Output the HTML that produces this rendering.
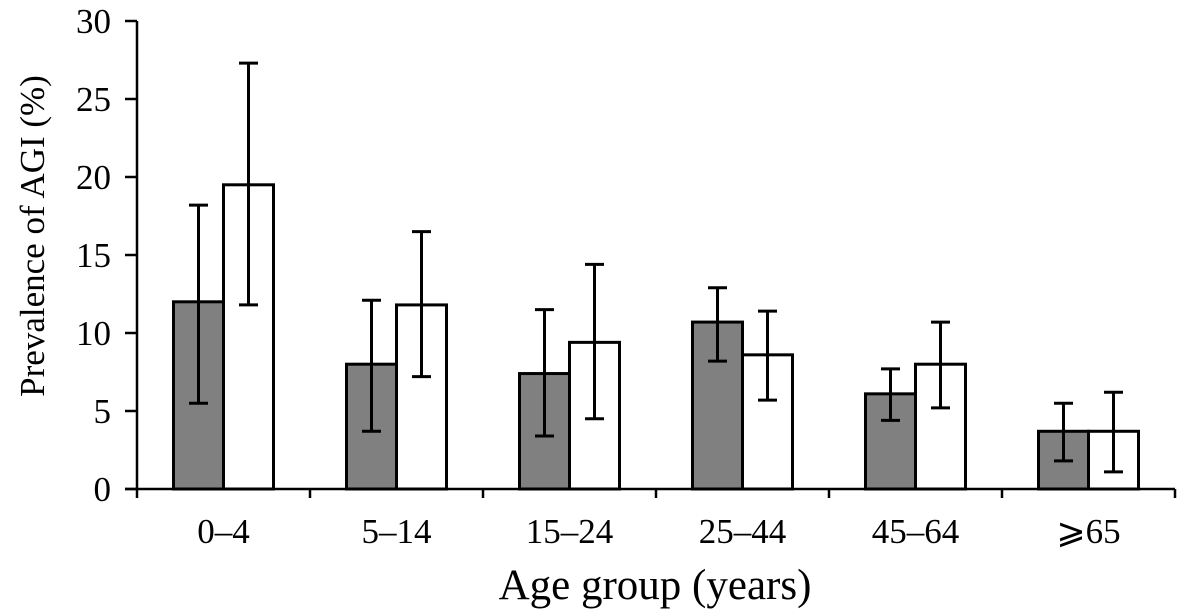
<!DOCTYPE html>
<html><head><meta charset="utf-8"><style>
html,body{margin:0;padding:0;background:#fff;}
svg{display:block;font-family:"Liberation Serif",serif;}
</style></head><body>
<svg id="chart" width="1178" height="614"></svg>
<script>
const categories=["0–4","5–14","15–24","25–44","45–64","⩾65"];
const seriesA=[12.0,8.0,7.4,10.7,6.1,3.7];
const seriesALow=[5.5,3.7,3.4,8.2,4.4,1.8];
const seriesAHigh=[18.2,12.1,11.5,12.9,7.7,5.5];
const seriesB=[19.5,11.8,9.4,8.6,8.0,3.7];
const seriesBLow=[11.8,7.2,4.5,5.7,5.2,1.1];
const seriesBHigh=[27.3,16.5,14.4,11.4,10.7,6.2];
const yTicks=[0,5,10,15,20,25,30];

const NS="http://www.w3.org/2000/svg";
const svg=document.getElementById('chart');
const x0=137,x1=1175,yBase=489,yTop=21,yMax=30;
const bw=(x1-x0)/categories.length;
const y=v=>yBase-(v/yMax)*(yBase-yTop);
function mk(tag,attrs){const e=document.createElementNS(NS,tag);for(const k in attrs)e.setAttribute(k,attrs[k]);svg.appendChild(e);return e;}

const ya=mk('line',{x1:x0,y1:yTop,x2:x0,y2:yBase,stroke:'#000','stroke-width':2.5});


const xa=mk('line',{x1:x0-12,y1:yBase,x2:x1,y2:yBase,stroke:'#000','stroke-width':2.5});



yTicks.forEach(t=>{
  const tk=mk('line',{x1:x0-12,y1:y(t),x2:x0,y2:y(t),stroke:'#000','stroke-width':2.5});
  
  
  const tx=mk('text',{x:x0-26,y:y(t)+12,'text-anchor':'end','font-size':35});
  tx.textContent=t;
  
  
});
for(let i=0;i<=categories.length;i++){
  const tk=mk('line',{x1:x0+i*bw,y1:yBase,x2:x0+i*bw,y2:yBase+9,stroke:'#000','stroke-width':2.5});
  
  
}
categories.forEach((c,i)=>{
  const cx=x0+(i+0.5)*bw;
  const w=50;
  const bars=[[seriesA[i],seriesALow[i],seriesAHigh[i],cx-w,'#808080','bar-series-a'],[seriesB[i],seriesBLow[i],seriesBHigh[i],cx,'#fff','bar-series-b']];
  bars.forEach(([v,lo,hi,bx,fill,name])=>{
    const r=mk('rect',{x:bx,y:y(v),width:w,height:yBase-y(v),fill:fill,stroke:'#000','stroke-width':3});
    
    
    const mx=bx+w/2;
    const eb=mk('path',{d:`M${mx},${y(lo)}V${y(hi)}M${mx-9.5},${y(lo)}H${mx+9.5}M${mx-9.5},${y(hi)}H${mx+9.5}`,stroke:'#000','stroke-width':3,fill:'none'});
    
    
  });
  const tx=mk('text',{x:cx,y:543,'text-anchor':'middle','font-size':35});
  tx.textContent=c;
  
  
});
const xt=mk('text',{x:655,y:599,'text-anchor':'middle','font-size':43});
xt.textContent='Age group (years)';


const yt=mk('text',{x:0,y:0,'text-anchor':'middle','font-size':35,transform:'translate(44,236) rotate(-90)'});
yt.textContent='Prevalence of AGI (%)';


</script>
</body></html>
